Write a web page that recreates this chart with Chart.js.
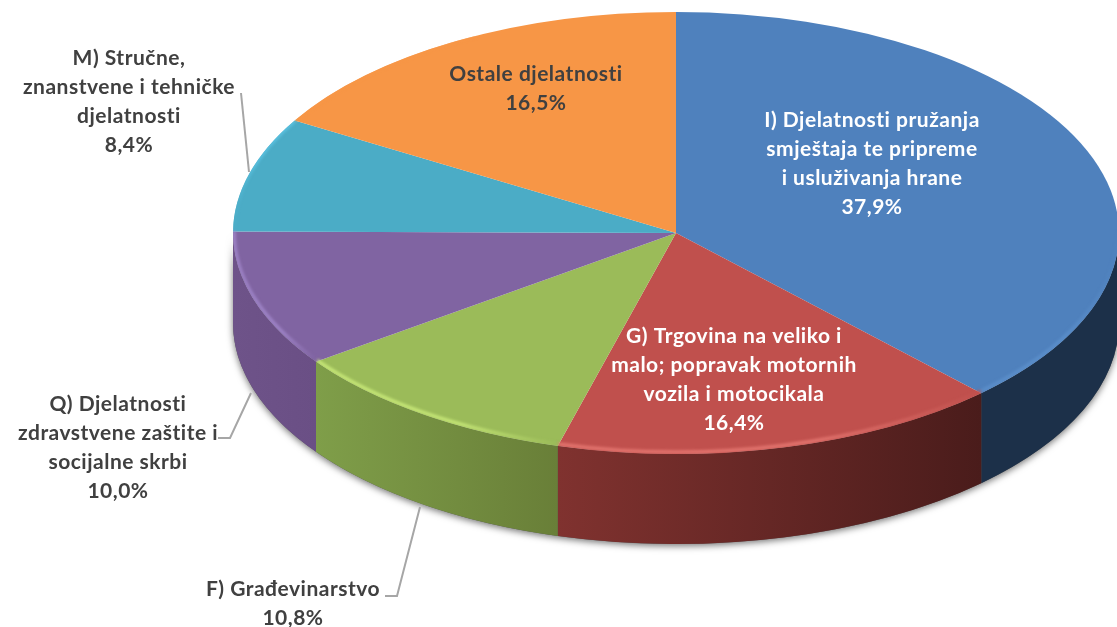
<!DOCTYPE html>
<html lang="hr">
<head>
    <meta charset="UTF-8">
    <title>Djelatnosti</title>
    <script src="https://cdnjs.cloudflare.com/ajax/libs/Chart.js/4.4.1/chart.umd.js"></script>
    <style>
        html, body { margin: 0; padding: 0; background: #fff; overflow: hidden; }
        #wrap { width: 1117px; height: 627px; }
    </style>
</head>
<body>
    <div id="wrap"><canvas id="pie" width="1117" height="627"></canvas></div>
    <script>
        // values, clockwise from 12 o'clock
        const categories = [
            'I) Djelatnosti pružanja smještaja te pripreme i usluživanja hrane',
            'G) Trgovina na veliko i malo; popravak motornih vozila i motocikala',
            'F) Građevinarstvo',
            'Q) Djelatnosti zdravstvene zaštite i socijalne skrbi',
            'M) Stručne, znanstvene i tehničke djelatnosti',
            'Ostale djelatnosti'
        ];
        const shares = [37.9, 16.4, 10.8, 10.0, 8.4, 16.5];
        const labelLines = [
            ['I) Djelatnosti pružanja', 'smještaja te pripreme', 'i usluživanja hrane'],
            ['G) Trgovina na veliko i', 'malo; popravak motornih', 'vozila i motocikala'],
            ['F) Građevinarstvo'],
            ['Q) Djelatnosti', 'zdravstvene zaštite i', 'socijalne skrbi'],
            ['M) Stručne,', 'znanstvene i tehničke', 'djelatnosti'],
            ['Ostale djelatnosti']
        ];
        const topColors = ['#4f81bd', '#c0504d', '#9bbb59', '#8064a2', '#4bacc6', '#f79646'];
        const rimColors = ['#5c90cc', '#e87a74', '#cdee7c', '#a288cc', '#5cc4e4', '#f79646'];
        const wallFrom = ['#1c3049', '#80322f', '#7f9e49', '#6e5389', '#2f6c7c', '#9a5a26'];
        const wallTo = ['#1c3049', '#4a1c1b', '#697f38', '#6a4f85', '#2f6c7c', '#9a5a26'];

        const ySquash = 221 / 443;
        const depth = 90;

        // where each text block sits: centre x, first line middle y, text colour
        const labelSpots = [
            { x: 872, y: 120, color: '#ffffff' },
            { x: 734, y: 336, color: '#ffffff' },
            { x: 293, y: 589, color: '#404040' },
            { x: 118, y: 404, color: '#404040' },
            { x: 129, y: 58, color: '#404040' },
            { x: 536, y: 74, color: '#404040' }
        ];
        const leaders = [
            [[241, 93], [249, 172]],
            [[218, 438], [230, 438], [251, 393]],
            [[385, 596], [397, 596], [420, 507]]
        ];

        const pie3d = {
            id: 'pie3d',
            beforeDatasetsDraw(chart) {
                const ctx = chart.ctx;
                const arcs = chart.getDatasetMeta(0).data;
                const cx = arcs[0].x, cy = arcs[0].y, a = arcs[0].outerRadius, b = a * ySquash;

                // soft shadow under the whole wall
                ctx.save();
                ctx.shadowColor = 'rgba(0,0,0,0.55)';
                ctx.shadowBlur = 7;
                ctx.shadowOffsetY = 2;
                ctx.fillStyle = '#555';
                ctx.beginPath();
                ctx.ellipse(cx, cy, a, b, 0, 0, Math.PI);
                ctx.ellipse(cx, cy + depth, a, b, 0, Math.PI, 0, true);
                ctx.closePath();
                ctx.fill();
                ctx.restore();

                arcs.forEach((arc, i) => {
                    const s = Math.max(arc.startAngle, 0), e = Math.min(arc.endAngle, Math.PI);
                    if (s >= e) return;
                    const x1 = cx + a * Math.cos(e), x2 = cx + a * Math.cos(s);
                    const g = ctx.createLinearGradient(x1, 0, x2, 0);
                    g.addColorStop(0, wallFrom[i]);
                    g.addColorStop(1, wallTo[i]);
                    ctx.fillStyle = g;
                    ctx.beginPath();
                    ctx.ellipse(cx, cy, a, b, 0, s, e);
                    ctx.ellipse(cx, cy + depth, a, b, 0, e, s, true);
                    ctx.closePath();
                    ctx.fill();
                });

                // the library's round pie is squashed into the ellipse
                ctx.save();
                ctx.translate(cx, cy);
                ctx.scale(1, ySquash);
                ctx.translate(-cx, -cy);
            },
            afterDatasetsDraw(chart) {
                const ctx = chart.ctx;
                ctx.restore();
                const arcs = chart.getDatasetMeta(0).data;
                const cx = arcs[0].x, cy = arcs[0].y, a = arcs[0].outerRadius, b = a * ySquash;

                // bevel highlight along the front edge, fading towards the right of each slice
                ctx.save();
                ctx.beginPath();
                ctx.ellipse(cx, cy, a, b, 0, 0, Math.PI * 2);
                ctx.clip();
                ctx.filter = 'blur(1.5px)';
                ctx.lineWidth = 3;
                arcs.forEach((arc, i) => {
                    const s = Math.max(arc.startAngle, 0), e = Math.min(arc.endAngle, Math.PI * 1.35);
                    if (s >= e) return;
                    const x1 = cx + a * Math.cos(e), x2 = cx + a * Math.cos(s);
                    const g = ctx.createLinearGradient(x1, 0, x2, 0);
                    g.addColorStop(0, rimColors[i]);
                    g.addColorStop(0.6, rimColors[i]);
                    g.addColorStop(1, topColors[i]);
                    ctx.strokeStyle = g;
                    ctx.beginPath();
                    ctx.ellipse(cx, cy - 1, a - 1, b - 1, 0, s, e);
                    ctx.stroke();
                });
                ctx.restore();

                // leader lines
                ctx.save();
                ctx.strokeStyle = '#a6a6a6';
                ctx.lineWidth = 2;
                leaders.forEach(pts => {
                    ctx.beginPath();
                    pts.forEach((p, k) => k ? ctx.lineTo(p[0], p[1]) : ctx.moveTo(p[0], p[1]));
                    ctx.stroke();
                });
                ctx.restore();

                // text
                ctx.save();
                ctx.font = 'bold 21px Lato';
                ctx.letterSpacing = '0.5px';
                ctx.textAlign = 'center';
                ctx.textBaseline = 'middle';
                labelLines.forEach((lines, i) => {
                    const spot = labelSpots[i];
                    const all = lines.concat(shares[i].toFixed(1).replace('.', ',') + '%');
                    ctx.fillStyle = spot.color;
                    all.forEach((t, k) => ctx.fillText(t, spot.x, spot.y + k * 29));
                });
                ctx.restore();
            }
        };

        new Chart(document.getElementById('pie').getContext('2d'), {
            type: 'pie',
            data: {
                labels: categories,
                datasets: [{
                    data: shares,
                    backgroundColor: topColors,
                    borderWidth: 0,
                    clip: false
                }]
            },
            options: {
                responsive: false,
                animation: false,
                radius: 443,
                // pushes the pie centre to where it sits in the picture
                layout: { padding: { left: 235, bottom: 161 } },
                events: [],
                plugins: { legend: { display: false }, tooltip: { enabled: false } }
            },
            plugins: [pie3d]
        });
    </script>
</body>
</html>
